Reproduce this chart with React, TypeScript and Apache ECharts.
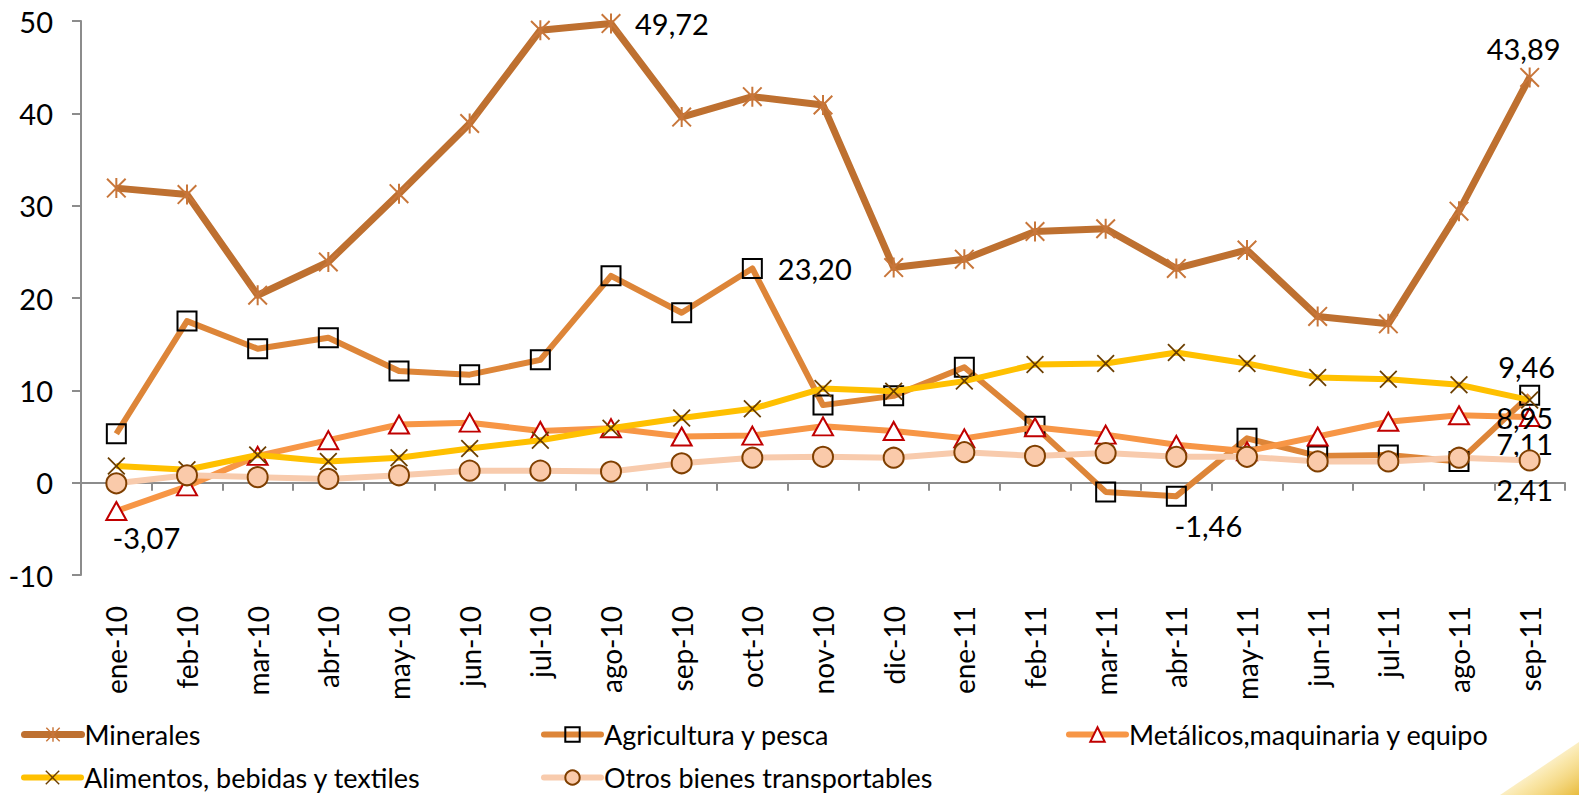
import React, { useEffect, useRef } from "react";
import * as echarts from "echarts";

const categories = ["ene-10","feb-10","mar-10","abr-10","may-10","jun-10","jul-10","ago-10","sep-10","oct-10","nov-10","dic-10","ene-11","feb-11","mar-11","abr-11","may-11","jun-11","jul-11","ago-11","sep-11"];

const minerales = [31.9, 31.2, 20.3, 23.9, 31.3, 38.9, 49.0, 49.72, 39.6, 41.8, 40.9, 23.3, 24.2, 27.2, 27.5, 23.2, 25.2, 18.0, 17.2, 29.4, 43.89];
const agricultura = [5.3, 17.5, 14.5, 15.7, 12.1, 11.7, 13.3, 22.4, 18.4, 23.2, 8.4, 9.4, 12.5, 6.1, -1.0, -1.46, 4.8, 2.9, 3.0, 2.3, 9.46];
const metalicos = [-3.07, -0.4, 2.9, 4.6, 6.3, 6.5, 5.6, 5.9, 5.0, 5.1, 6.1, 5.6, 4.8, 6.0, 5.2, 4.1, 3.4, 5.0, 6.6, 7.3, 7.11];
const alimentos = [1.8, 1.4, 3.0, 2.3, 2.7, 3.7, 4.6, 5.9, 7.0, 8.0, 10.2, 9.9, 11.0, 12.8, 12.9, 14.1, 12.9, 11.4, 11.2, 10.6, 8.95];
const otros = [-0.07, 0.8, 0.6, 0.4, 0.8, 1.3, 1.3, 1.2, 2.1, 2.7, 2.8, 2.7, 3.3, 2.9, 3.2, 2.8, 2.8, 2.3, 2.3, 2.7, 2.41];

const seriesNames = ["Minerales", "Agricultura y pesca", "Metálicos,maquinaria y equipo", "Alimentos, bebidas y textiles", "Otros bienes transportables"];
const seriesWidths = [7, 6, 6, 6, 6];

const FONT = "Lato";

const ASTERISK = "path://M0,1.4 L1.4,0 L20,18.6 L18.6,20 Z M18.6,0 L20,1.4 L1.4,20 L0,18.6 Z M9,0 L11,0 L11,20 L9,20 Z";
const CROSS = "path://M0,1.4 L1.4,0 L20,18.6 L18.6,20 Z M18.6,0 L20,1.4 L1.4,20 L0,18.6 Z";

const fmt = (p: any) => Number(p.value).toFixed(2).replace(".", ",");

function withLabels(values: number[], labels: Record<number, any>) {
  return values.map((v, i) =>
    labels[i]
      ? { value: v, label: { show: true, formatter: fmt, color: "#000", fontFamily: FONT, fontSize: 29, ...labels[i] } }
      : v
  );
}

// legend slots: [seriesIndex, left, top]
const legendSlots: [number, number, number][] = [
  [0, 21, 721],
  [1, 541, 721],
  [2, 1066, 721],
  [3, 21, 764],
  [4, 541, 764],
];

export default function App() {
  const ref = useRef<HTMLDivElement>(null);
  useEffect(() => {
    if (!ref.current) return;
    const chart = echarts.init(ref.current, undefined, { renderer: "svg" });
    const legendText = { fontFamily: FONT, fontSize: 27, color: "#000", padding: [0, 0, 0, -2] };
    chart.setOption({
      animation: false,
      backgroundColor: "#fff",
      grid: { left: 81, right: 14, top: 21, bottom: 220, containLabel: false },
      legend: legendSlots.map(([si, left, top]) => ({
        data: [seriesNames[si]],
        left,
        top,
        padding: 0,
        itemWidth: 57,
        itemHeight: 18,
        itemGap: 4,
        textStyle: legendText,
        lineStyle: { width: seriesWidths[si], cap: "round" },
      })),
      xAxis: {
        type: "category",
        data: categories,
        boundaryGap: true,
        axisLine: { show: true, onZero: true, lineStyle: { color: "#8c8c8c", width: 2 } },
        axisTick: { show: true, length: 8, lineStyle: { color: "#8c8c8c", width: 2 } },
        axisLabel: { rotate: 90, margin: 31, fontFamily: FONT, fontSize: 28, color: "#000", interval: 0 },
        splitLine: { show: false },
      },
      yAxis: {
        type: "value",
        min: -10,
        max: 50,
        interval: 10,
        axisLine: { show: true, lineStyle: { color: "#8c8c8c", width: 2 } },
        axisTick: { show: true, length: 9, lineStyle: { color: "#8c8c8c", width: 2 } },
        axisLabel: { fontFamily: FONT, fontSize: 29, color: "#000", margin: 28 },
        splitLine: { show: false },
      },
      series: [
        {
          name: seriesNames[0],
          type: "line",
          data: withLabels(minerales, { 7: { position: "right", distance: 14 }, 20: { position: "top", distance: 4, offset: [-6, 0] } }),
          symbol: ASTERISK,
          symbolSize: 20,
          lineStyle: { color: "#BE7030", width: seriesWidths[0], join: "round" },
          itemStyle: { color: "#C8763A", borderWidth: 0 },
          z: 2,
        },
        {
          name: seriesNames[1],
          type: "line",
          data: withLabels(agricultura, { 9: { position: "right", distance: 15 }, 15: { position: "bottom", distance: 4, offset: [32, 0] }, 20: { position: "top", distance: 4, offset: [-3, 0] } }),
          symbol: "rect",
          symbolSize: 19,
          lineStyle: { color: "#DD8538", width: seriesWidths[1], join: "round" },
          itemStyle: { color: "rgba(255,255,255,0)", borderColor: "#000", borderWidth: 2 },
          z: 3,
        },
        {
          name: seriesNames[2],
          type: "line",
          data: withLabels(metalicos, { 0: { position: "bottom", distance: 2, offset: [30, 0] }, 20: { position: "bottom", distance: 2, offset: [-5, 0] } }),
          symbol: "triangle",
          symbolSize: [20, 18],
          lineStyle: { color: "#F79646", width: seriesWidths[2], join: "round" },
          itemStyle: { color: "#fff", borderColor: "#C00000", borderWidth: 2 },
          z: 4,
        },
        {
          name: seriesNames[3],
          type: "line",
          data: withLabels(alimentos, { 20: { position: "inside", offset: [-5, 17] } }),
          symbol: CROSS,
          symbolSize: 18,
          lineStyle: { color: "#FFC000", width: seriesWidths[3], join: "round" },
          itemStyle: { color: "#6B3E00", borderWidth: 0 },
          z: 5,
        },
        {
          name: seriesNames[4],
          type: "line",
          data: withLabels(otros, { 20: { position: "bottom", distance: 4, offset: [-5, 0] } }),
          symbol: "circle",
          symbolSize: 20,
          lineStyle: { color: "#F8CBAD", width: seriesWidths[4], join: "round" },
          itemStyle: { color: "#FACAAA", borderColor: "#7F3F00", borderWidth: 2 },
          z: 6,
        },
      ],
      graphic: [
        {
          type: "polygon",
          silent: true,
          shape: { points: [[1500, 795], [1579, 742], [1579, 795]] },
          style: {
            fill: new echarts.graphic.LinearGradient(0, 0, 1, 1, [
              { offset: 0, color: "rgba(255,255,255,0)" },
              { offset: 0.6, color: "rgba(246,214,110,0.6)" },
              { offset: 1, color: "rgba(230,180,40,0.9)" },
            ]),
          },
          z: -1,
        },
      ],
    });
    return () => chart.dispose();
  }, []);
  return <div ref={ref} style={{ position: "fixed", left: 0, top: 0, width: 1579, height: 795 }} />;
}
